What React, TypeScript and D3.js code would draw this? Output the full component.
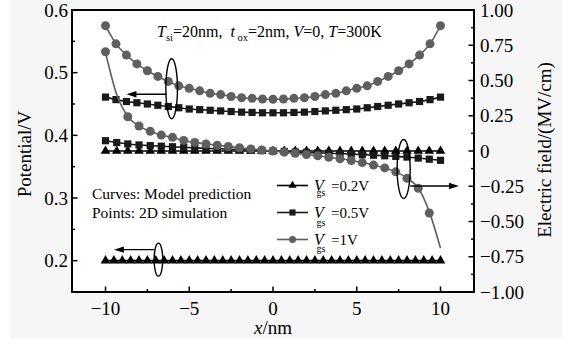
import React from 'react';
import * as d3 from 'd3';

// x grids (nm)
const xFine = [-10, -9.375, -8.75, -8.125, -7.5, -6.875, -6.25, -5.625, -5, -4.375, -3.75, -3.125, -2.5, -1.875, -1.25, -0.625, 0, 0.625, 1.25, 1.875, 2.5, 3.125, 3.75, 4.375, 5, 5.625, 6.25, 6.875, 7.5, 8.125, 8.75, 9.375, 10];
const xMid = [-10, -9.33, -8.67, -8, -7.33, -6.67, -6, -5.33, -4.67, -4, -3.33, -2.67, -2, -1.33, -0.67, 0, 0.67, 1.33, 2, 2.67, 3.33, 4, 4.67, 5.33, 6, 6.67, 7.33, 8, 8.67, 9.33, 10];
const xDense = [-10, -9.5, -9, -8.5, -8, -7.5, -7, -6.5, -6, -5.5, -5, -4.5, -4, -3.5, -3, -2.5, -2, -1.5, -1, -0.5, 0, 0.5, 1, 1.5, 2, 2.5, 3, 3.5, 4, 4.5, 5, 5.5, 6, 6.5, 7, 7.5, 8, 8.5, 9, 9.5, 10];

// surface potential (V), left axis
const potential1V = [0.575, 0.546, 0.528, 0.514, 0.503, 0.494, 0.486, 0.479, 0.475, 0.471, 0.467, 0.465, 0.462, 0.460, 0.459, 0.458, 0.4575, 0.458, 0.459, 0.460, 0.462, 0.465, 0.467, 0.471, 0.475, 0.479, 0.486, 0.494, 0.503, 0.514, 0.528, 0.546, 0.575];
const potential05V = [0.461, 0.457, 0.454, 0.452, 0.450, 0.448, 0.446, 0.444, 0.442, 0.441, 0.440, 0.439, 0.438, 0.437, 0.4365, 0.436, 0.436, 0.436, 0.4365, 0.437, 0.438, 0.439, 0.440, 0.441, 0.442, 0.444, 0.446, 0.448, 0.450, 0.452, 0.454, 0.457, 0.461];
const potential02V = [0.2, 0.2, 0.2, 0.2, 0.2, 0.2, 0.2, 0.2, 0.2, 0.2, 0.2, 0.2, 0.2, 0.2, 0.2, 0.2, 0.2, 0.2, 0.2, 0.2, 0.2, 0.2, 0.2, 0.2, 0.2, 0.2, 0.2, 0.2, 0.2, 0.2, 0.2, 0.2, 0.2, 0.2, 0.2, 0.2, 0.2, 0.2, 0.2, 0.2, 0.2];

// electric field (MV/cm), right axis
const field02V = [0, 0, 0, 0, 0, 0, 0, 0, 0, 0, 0, 0, 0, 0, 0, 0, 0, 0, 0, 0, 0, 0, 0, 0, 0, 0, 0, 0, 0, 0, 0];
const field05V = [0.073, 0.060, 0.050, 0.043, 0.038, 0.034, 0.030, 0.026, 0.022, 0.019, 0.016, 0.013, 0.010, 0.007, 0.003, 0, -0.003, -0.007, -0.010, -0.013, -0.016, -0.019, -0.022, -0.026, -0.030, -0.034, -0.038, -0.043, -0.050, -0.058, -0.066];
const field1VModel = [0.70, 0.40, 0.245, 0.177, 0.140, 0.113, 0.095, 0.075, 0.061, 0.050, 0.041, 0.032, 0.023, 0.015, 0.007, 0, -0.008, -0.016, -0.025, -0.034, -0.044, -0.055, -0.067, -0.082, -0.100, -0.120, -0.148, -0.192, -0.262, -0.43, -0.69];
const field1VSimX = [-10, -8.67, -8, -7.33, -6.67, -6, -5.33, -4.67, -4, -3.33, -2.67, -2, -1.33, -0.67, 0, 0.67, 1.33, 2, 2.67, 3.33, 4, 4.67, 5.33, 6, 6.67, 7.33, 8, 8.67, 9.33];
const field1VSim = [0.704, 0.243, 0.177, 0.140, 0.113, 0.097, 0.075, 0.061, 0.050, 0.041, 0.032, 0.023, 0.015, 0.007, 0, -0.008, -0.016, -0.025, -0.034, -0.044, -0.055, -0.067, -0.082, -0.100, -0.120, -0.148, -0.194, -0.265, -0.44];

// ticks
const xTicks = [-10, -5, 0, 5, 10];
const xMinor = [-7.5, -2.5, 2.5, 7.5];
const leftTicks = [0.2, 0.3, 0.4, 0.5, 0.6];
const leftMinor = [0.25, 0.35, 0.45, 0.55];
const rightTicks = [1, 0.75, 0.5, 0.25, 0, -0.25, -0.5, -0.75, -1];
const rightTickLabels = ['1.00', '0.75', '0.50', '0.25', '0', '\u22120.25', '\u22120.50', '\u22120.75', '\u22121.00'];
const rightMinor = [0.875, 0.625, 0.375, 0.125, -0.125, -0.375, -0.625, -0.875];

const W = 571;
const H = 345;
const left = 72;
const right = 474;
const top = 10;
const bottom = 292;
const font = "'Liberation Serif', 'Times New Roman', serif";
const gray = '#5f5f5f';
const dark = '#1a1a1a';

const x = d3.scaleLinear().domain([-12, 12]).range([left, right]);
const yL = d3.scaleLinear().domain([0.15, 0.6]).range([bottom, top]);
const yR = d3.scaleLinear().domain([-1, 1]).range([bottom, top]);

const tri = d3.symbol().type(d3.symbolTriangle).size(40)() as string;
const sq = d3.symbol().type(d3.symbolSquare).size(52)() as string;

function path(xs: number[], ys: number[], y: d3.ScaleLinear<number, number>) {
  return d3.line<number>()
    .x((_, i) => x(xs[i]))
    .y(d => y(d))
    .curve(d3.curveMonotoneX)(ys) as string;
}

const Series = ({ xs, ys, y, color, marker, lx, ly }: any) => (
  <g>
    <path d={path(lx || xs, ly || ys, y)} fill="none" stroke={color} strokeWidth={1.6} />
    {ys.map((v: number, i: number) =>
      marker === 'circle'
        ? <circle key={i} cx={x(xs[i])} cy={y(v)} r={4.5} fill={color} />
        : <path key={i} d={marker === 'square' ? sq : tri} transform={`translate(${x(xs[i])},${y(v)})`} fill={color} />
    )}
  </g>
);

const Arrow = ({ x1, y1, x2, y2 }: any) => {
  const dir = Math.sign(x2 - x1);
  return (
    <g>
      <line x1={x1} y1={y1} x2={x2 - dir * 6} y2={y2} stroke="#000" strokeWidth={1.4} />
      <path d={`M${x2},${y2}L${x2 - dir * 10},${y2 - 3.2}L${x2 - dir * 10},${y2 + 3.2}Z`} fill="#000" />
    </g>
  );
};

export default function App() {
  const legend = [
    { label: '0.2V', marker: 'tri', color: '#000', y: 185.5, sub: 196 },
    { label: '0.5V', marker: 'square', color: dark, y: 212.5, sub: 226 },
    { label: '1V', marker: 'circle', color: gray, y: 239.5, sub: 252 },
  ];
  return (
    <svg width={W} height={H} style={{ position: 'absolute', left: 0, top: 0 }} fontFamily={font}>
      <rect x={0} y={0} width={W} height={H} fill="#fff" />
      <rect x={10} y={0} width={552} height={338} fill="#f6f6f6" />
      <rect x={left} y={top} width={right - left} height={bottom - top} fill="#fff" />

      {/* curves and points */}
      <Series xs={xDense} ys={potential02V} y={yL} color="#000" marker="tri" />
      <Series xs={xMid} ys={field02V} y={yR} color="#000" marker="tri" />
      <Series xs={xMid} ys={field05V} y={yR} color={dark} marker="square" />
      <Series xs={xFine} ys={potential05V} y={yL} color={dark} marker="square" />
      <Series xs={xFine} ys={potential1V} y={yL} color={gray} marker="circle" />
      <Series xs={field1VSimX} ys={field1VSim} y={yR} color={gray} marker="circle" lx={xMid} ly={field1VModel} />

      {/* annotations */}
      <ellipse cx={x(-6.05)} cy={yL(0.4744)} rx={5.8} ry={30} fill="none" stroke="#000" strokeWidth={1.4} />
      <Arrow x1={x(-6.35)} y1={yL(0.4655)} x2={x(-8.75)} y2={yL(0.4655)} />
      <ellipse cx={x(-6.84)} cy={yL(0.2016)} rx={4.3} ry={16.5} fill="none" stroke="#000" strokeWidth={1.4} />
      <Arrow x1={x(-7.1)} y1={yL(0.2176)} x2={x(-9.5)} y2={yL(0.2176)} />
      <ellipse cx={x(7.8)} cy={yR(-0.128)} rx={6.5} ry={29.5} fill="none" stroke="#000" strokeWidth={1.4} />
      <Arrow x1={x(8.2)} y1={yR(-0.248)} x2={x(11.1)} y2={yR(-0.248)} />

      {/* frame */}
      <rect x={left} y={top} width={right - left} height={bottom - top} fill="none" stroke="#000" strokeWidth={2} />

      {/* x axis */}
      {xTicks.map(t => (
        <g key={t}>
          <line x1={x(t)} x2={x(t)} y1={bottom} y2={bottom - 5.5} stroke="#000" strokeWidth={1.5} />
          <text x={x(t)} y={315} textAnchor="middle" fontSize={19}>{t < 0 ? '\u2212' + Math.abs(t) : t}</text>
        </g>
      ))}
      {xMinor.map(t => <line key={t} x1={x(t)} x2={x(t)} y1={bottom} y2={bottom - 3} stroke="#000" strokeWidth={1.5} />)}
      <text x={273} y={334} textAnchor="middle" fontSize={19}><tspan fontStyle="italic">x</tspan>/nm</text>

      {/* left axis */}
      {leftTicks.map(t => (
        <g key={t}>
          <line x1={left} x2={left + 5.5} y1={yL(t)} y2={yL(t)} stroke="#000" strokeWidth={1.5} />
          <text x={68} y={yL(t) + 6.5} textAnchor="end" fontSize={19}>{t.toFixed(1)}</text>
        </g>
      ))}
      {leftMinor.map(t => <line key={t} x1={left} x2={left + 3} y1={yL(t)} y2={yL(t)} stroke="#000" strokeWidth={1.5} />)}
      <text transform={`translate(31,154) rotate(-90)`} textAnchor="middle" fontSize={19}>Potential/V</text>

      {/* right axis */}
      {rightTicks.map((t, i) => (
        <g key={t}>
          <line x1={right} x2={right - 5.5} y1={yR(t)} y2={yR(t)} stroke="#000" strokeWidth={1.5} />
          <text x={480} y={yR(t) + 6.5} fontSize={19}>{rightTickLabels[i]}</text>
        </g>
      ))}
      {rightMinor.map(t => <line key={t} x1={right} x2={right - 3} y1={yR(t)} y2={yR(t)} stroke="#000" strokeWidth={1.5} />)}
      <text transform={`translate(551,150) rotate(-90)`} textAnchor="middle" fontSize={19}>Electric field/(MV/cm)</text>

      {/* conditions */}
      <text x={157} y={37} fontSize={16} style={{ whiteSpace: 'pre' }}>
        <tspan fontStyle="italic">T</tspan>
        <tspan fontSize={10.5} dy={4}>si</tspan>
        <tspan dy={-4}>=20nm,  </tspan>
        <tspan fontStyle="italic">t</tspan>
        <tspan fontSize={10.5} dy={4}> ox</tspan>
        <tspan dy={-4}>=2nm, </tspan>
        <tspan fontStyle="italic">V</tspan>
        <tspan>=0, </tspan>
        <tspan fontStyle="italic">T</tspan>
        <tspan>=300K</tspan>
      </text>

      <text x={92} y={199} fontSize={15.5}>Curves: Model prediction</text>
      <text x={92} y={218} fontSize={15.5}>Points: 2D simulation</text>

      {/* legend */}
      {legend.map(l => (
        <g key={l.label}>
          <line x1={277} x2={308} y1={l.y} y2={l.y} stroke={l.color} strokeWidth={1.6} />
          {l.marker === 'circle'
            ? <circle cx={292.5} cy={l.y} r={3.5} fill={l.color} />
            : <path d={l.marker === 'square' ? sq : tri} transform={`translate(292.5,${l.y}) scale(0.85)`} fill={l.color} />}
          <text y={l.y + 5} fontSize={15}>
            <tspan x={314} fontStyle="italic" fontSize={16}>V</tspan>
            <tspan x={316.5} dy={l.sub - l.y - 5} fontSize={10}>gs</tspan>
            <tspan x={331} dy={l.y + 5 - l.sub}>={l.label}</tspan>
          </text>
        </g>
      ))}
    </svg>
  );
}
